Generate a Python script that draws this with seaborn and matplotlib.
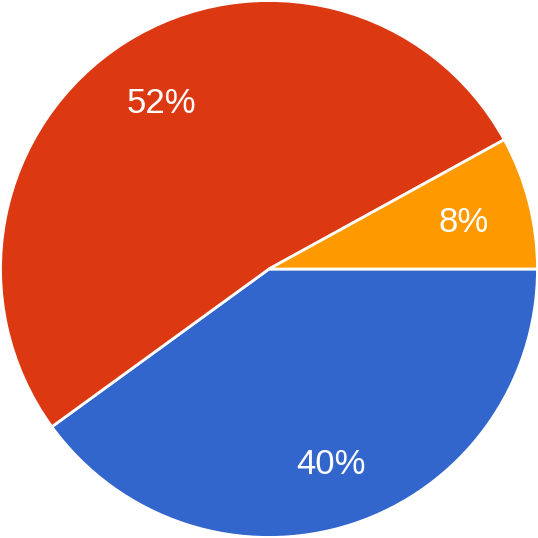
import matplotlib
matplotlib.use("Agg")
import matplotlib.pyplot as plt
import seaborn as sns

# slice data (clockwise from 3 o'clock)
labels = ["Blue", "Red", "Orange"]
shares = [40, 52, 8]
colors = ["#3366cc", "#dc3912", "#ff9900"]

sns.set_style("white")
plt.rcParams["font.family"] = ["Liberation Sans", "DejaVu Sans"]

fig = plt.figure(figsize=(5.38, 5.38), dpi=100)
ax = fig.add_axes([0, 0, 1, 1])

wedges, texts, autotexts = ax.pie(
    shares,
    colors=sns.color_palette(colors),
    startangle=0,
    counterclock=False,
    autopct="%d%%",
    pctdistance=0.75,
    wedgeprops=dict(edgecolor="white", linewidth=2),
)
for t in autotexts:
    t.set_color("white")
    t.set_fontsize(25)
    x, y = t.get_position()
    t.set_position((x, y - 0.015))  # nudge down a few px

ax.set_xlim(-1.002, 1.002)
ax.set_ylim(-1.002, 1.002)
ax.set_aspect("equal")
ax.axis("off")

fig.savefig("out.png", dpi=100)
